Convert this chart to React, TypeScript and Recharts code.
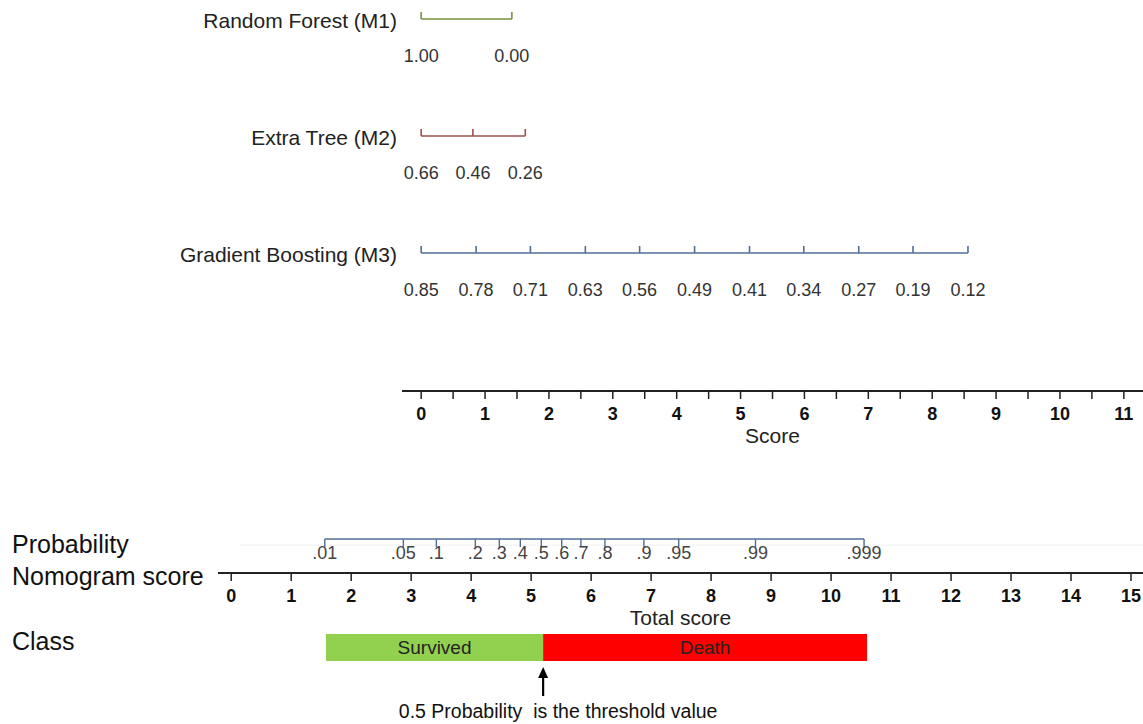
import React from "react"
import { ComposedChart, BarChart, Bar, Line, XAxis, YAxis, ReferenceLine, Label } from "recharts"

const FONT = '"Liberation Sans", Arial, Helvetica, sans-serif'
const W = 1143

// predictors: name, tick labels, and the score (points) where each tick sits
const predictorNames = ["Random Forest (M1)", "Extra Tree (M2)", "Gradient Boosting (M3)"]
const predictorColors = ["#77933c", "#a0504e", "#4f6f97"]
const m1Labels = ["1.00", "0.00"]
const m1Points = [0, 1.42]
const m2Labels = ["0.66", "0.46", "0.26"]
const m2Points = [0, 0.81, 1.63]
const m3Labels = ["0.85", "0.78", "0.71", "0.63", "0.56", "0.49", "0.41", "0.34", "0.27", "0.19", "0.12"]
const m3Points = [0, 0.86, 1.71, 2.57, 3.42, 4.28, 5.14, 5.99, 6.85, 7.7, 8.56]

const scoreTicks = [0, 0.5, 1, 1.5, 2, 2.5, 3, 3.5, 4, 4.5, 5, 5.5, 6, 6.5, 7, 7.5, 8, 8.5, 9, 9.5, 10, 10.5, 11]
const totalTicks = [0, 1, 2, 3, 4, 5, 6, 7, 8, 9, 10, 11, 12, 13, 14, 15]

// probability scale, positioned on the total score axis
const probLabels = [".01", ".05", ".1", ".2", ".3", ".4", ".5", ".6", ".7", ".8", ".9", ".95", ".99", ".999"]
const probPoints = [1.56, 2.87, 3.42, 4.07, 4.47, 4.82, 5.17, 5.51, 5.83, 6.23, 6.88, 7.46, 8.74, 10.55]

// class band: start, threshold (p = 0.5), end in total score
const classNames = ["Survived", "Death"]
const classColors = ["#92d050", "#ff0000"]
const classBounds = [1.58, 5.2, 10.6]
const thresholdNote = "0.5 Probability  is the threshold value"

const predictorLists = [
  { labels: m1Labels, points: m1Points },
  { labels: m2Labels, points: m2Points },
  { labels: m3Labels, points: m3Points },
]

const predictorRows = predictorNames.map((name, r) => ({
  name,
  color: predictorColors[r],
  data: predictorLists[r].points.map((s, i) => ({ s, row: r + 1, label: predictorLists[r].labels[i] })),
}))

const probData = probPoints.map((t, i) => ({ t, row: 1, label: probLabels[i] }))

const classData = [
  {
    cls: "Class",
    offset: classBounds[0],
    survived: classBounds[1] - classBounds[0],
    death: classBounds[2] - classBounds[1],
  },
]

function PredictorDot(props: any) {
  const { cx, cy, stroke, payload } = props
  return (
    <g>
      <line x1={cx} x2={cx} y1={cy} y2={cy - 7} stroke={stroke} strokeWidth={1.6} />
      <text x={cx} y={cy + 37} textAnchor="middle" dominantBaseline="central" fontSize={18} fill="#333" fontFamily={FONT}>
        {payload.label}
      </text>
    </g>
  )
}

function ProbDot(props: any) {
  const { cx, cy, payload } = props
  return (
    <g>
      <line x1={cx} x2={cx} y1={cy} y2={cy + 8} stroke="#4f6f97" strokeWidth={1.4} />
      <text x={cx} y={cy + 14} textAnchor="middle" dominantBaseline="central" fontSize={18} fill="#444" fontFamily={FONT}>
        {payload.label}
      </text>
    </g>
  )
}

function BoldTick(props: any) {
  const { x, y, payload } = props
  if (!Number.isInteger(payload.value)) return <g />
  return (
    <text x={x} y={y + 15} textAnchor="middle" dominantBaseline="central" fontSize={18} fontWeight="bold" fill="#111" fontFamily={FONT}>
      {payload.value}
    </text>
  )
}

function NameTick(props: any) {
  const { y, payload } = props
  return (
    <text x={397} y={y + 2} textAnchor="end" dominantBaseline="central" fontSize={21} fill="#222" fontFamily={FONT}>
      {predictorNames[payload.value - 1]}
    </text>
  )
}

function LeftTick(text: string, dy: number) {
  return (props: any) => (
    <text x={12} y={props.y + dy} textAnchor="start" dominantBaseline="central" fontSize={25} fill="#111" fontFamily={FONT}>
      {text}
    </text>
  )
}

function AxisTitle(text: string, dy: number) {
  return (props: any) => {
    const vb = props.viewBox
    return (
      <text x={vb.x + vb.width / 2} y={vb.y + dy} textAnchor="middle" dominantBaseline="central" fontSize={21} fill="#222" fontFamily={FONT}>
        {text}
      </text>
    )
  }
}

function NomogramScoreLabel(props: any) {
  const vb = props.viewBox
  return (
    <text x={12} y={vb.y + 3} textAnchor="start" dominantBaseline="central" fontSize={25} fill="#111" fontFamily={FONT}>
      Nomogram score
    </text>
  )
}

function SurvivedShape(props: any) {
  const { x, y, width, height } = props
  const tx = x + width
  const base = y + height
  return (
    <g>
      <rect x={x} y={y} width={width} height={height} fill={classColors[0]} />
      <text x={x + width / 2} y={y + height / 2} textAnchor="middle" dominantBaseline="central" fontSize={19} fill="#222" fontFamily={FONT}>
        {classNames[0]}
      </text>
      <line x1={tx} x2={tx} y1={base + 35} y2={base + 14} stroke="#000" strokeWidth={2.2} />
      <polygon points={`${tx},${base + 6} ${tx - 5},${base + 17} ${tx + 5},${base + 17}`} fill="#000" />
      <text x={tx + 15} y={base + 50} textAnchor="middle" dominantBaseline="central" fontSize={19.5} fill="#111" fontFamily={FONT} xmlSpace="preserve">
        {thresholdNote}
      </text>
    </g>
  )
}

function DeathShape(props: any) {
  const { x, y, width, height } = props
  return (
    <g>
      <rect x={x} y={y} width={width} height={height} fill={classColors[1]} />
      <text x={x + width / 2} y={y + height / 2} textAnchor="middle" dominantBaseline="central" fontSize={19} fill="#222" fontFamily={FONT}>
        {classNames[1]}
      </text>
    </g>
  )
}

export default function App() {
  return (
    <div style={{ position: "absolute", left: 0, top: 0, width: W, height: 724, background: "#fff", fontFamily: FONT, overflow: "hidden" }}>
      {/* predictor rows + points axis */}
      <div style={{ position: "absolute", left: 0, top: 0 }}>
        <ComposedChart width={W} height={460} margin={{ top: 0, right: 0, bottom: 0, left: 0 }}>
          <XAxis
            dataKey="s"
            type="number"
            domain={[-0.3, 11.3]}
            ticks={scoreTicks}
            interval={0}
            height={69}
            tickSize={8}
            tickMargin={0}
            stroke="#222"
            axisLine={{ stroke: "#222", strokeWidth: 2 }}
            tickLine={{ stroke: "#222", strokeWidth: 1.5 }}
            tick={BoldTick}
          >
            <Label content={AxisTitle("Score", 44)} />
          </XAxis>
          <YAxis
            type="number"
            domain={[0.8376, 4.18]}
            reversed
            ticks={[1, 2, 3]}
            width={402}
            axisLine={false}
            tickLine={false}
            tick={NameTick}
          />
          {predictorRows.map((r) => (
            <Line
              key={r.name}
              data={r.data}
              dataKey="row"
              stroke={r.color}
              strokeWidth={1.6}
              dot={(p: any) => <PredictorDot key={`${r.name}-${p.index}`} {...p} stroke={r.color} />}
              activeDot={false}
              isAnimationActive={false}
            />
          ))}
        </ComposedChart>
      </div>

      {/* probability scale + total score axis */}
      <div style={{ position: "absolute", left: 0, top: 505 }}>
        <ComposedChart width={W} height={125} margin={{ top: 0, right: 0, bottom: 0, left: 0 }}>
          <XAxis
            dataKey="t"
            type="number"
            domain={[-0.22, 15.2]}
            ticks={totalTicks}
            interval={0}
            height={57}
            tickSize={8}
            tickMargin={0}
            stroke="#222"
            axisLine={{ stroke: "#222", strokeWidth: 2 }}
            tickLine={{ stroke: "#222", strokeWidth: 1.5 }}
            tick={BoldTick}
          >
            <Label content={AxisTitle("Total score", 44)} />
            <Label content={NomogramScoreLabel} />
          </XAxis>
          <YAxis
            type="number"
            domain={[0, 2]}
            reversed
            ticks={[1]}
            width={218}
            axisLine={false}
            tickLine={false}
            tick={LeftTick("Probability", 5)}
          />
          <ReferenceLine
            segment={[
              { x: 0.15, y: 1.18 },
              { x: 15.2, y: 1.18 },
            ]}
            stroke="#f0f0f0"
            strokeWidth={1}
          />
          <Line
            data={probData}
            dataKey="row"
            stroke="#4f6f97"
            strokeWidth={1.5}
            dot={(p: any) => <ProbDot key={`p-${p.index}`} {...p} />}
            activeDot={false}
            isAnimationActive={false}
          />
        </ComposedChart>
      </div>

      {/* class band */}
      <div style={{ position: "absolute", left: 0, top: 620 }}>
        <BarChart width={W} height={104} layout="vertical" data={classData} margin={{ top: 0, right: 0, bottom: 50, left: 0 }}>
          <XAxis type="number" domain={[-0.22, 15.2]} hide />
          <YAxis type="category" dataKey="cls" width={218} axisLine={false} tickLine={false} tick={LeftTick("Class", -6)} />
          <Bar dataKey="offset" stackId="c" barSize={27} shape={() => <g />} isAnimationActive={false} />
          <Bar dataKey="survived" stackId="c" barSize={27} shape={SurvivedShape} isAnimationActive={false} />
          <Bar dataKey="death" stackId="c" barSize={27} shape={DeathShape} isAnimationActive={false} />
        </BarChart>
      </div>
    </div>
  )
}
